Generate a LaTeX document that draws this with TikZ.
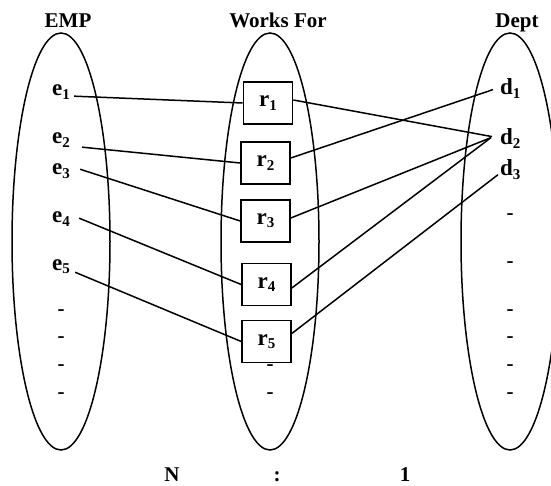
\documentclass[tikz,border=0pt]{standalone}
\usepackage{fontspec}
\setmainfont{Liberation Serif}
\usetikzlibrary{calc}
\newcommand\sbs[1]{\raisebox{-0.3ex}{\fontsize{15}{15}\selectfont #1}}
\begin{document}
\begin{tikzpicture}[x=1pt,y=-1pt,
  txt/.style={inner sep=0pt,font=\fontsize{21}{24}\selectfont\bfseries},
  item/.style={inner sep=0pt,font=\fontsize{23}{26}\selectfont\bfseries},
  setshape/.style={draw,line width=1.5pt},
  relbox/.style={item,draw,line width=1.6pt,minimum width=49pt,minimum height=42pt},
  link/.style={line width=1.5pt},
  gap/.style={txt}]
\useasboundingbox (0,0) rectangle (551,486);
\clip (0,0) rectangle (551,486);

% entity sets and relationship set
\draw[setshape] (61,241.5) ellipse [x radius=49, y radius=208.5];
\draw[setshape] (270,241.5) ellipse [x radius=49, y radius=208.5];
\draw[setshape] (510,241.5) ellipse [x radius=49, y radius=208.5];

% headings
\node[txt,anchor=base] (hemp) at (68,28) {EMP};
\node[txt,anchor=base] (hwf) at (278,28) {Works For};
\node[txt,anchor=base] (hdept) at (517,28) {Dept};

% employees
\node[item,anchor=base west] (e1) at (52,96) {e\sbs{1}};
\node[item,anchor=base west] (e2) at (52,144) {e\sbs{2}};
\node[item,anchor=base west] (e3) at (52,175) {e\sbs{3}};
\node[item,anchor=base west] (e4) at (52,223) {e\sbs{4}};
\node[item,anchor=base west] (e5) at (52,270) {e\sbs{5}};
\foreach \y/\n in {313/a,340/b,368/c,396/d}
  \node[gap] (ge\n) at (61,\y) {-};

% relationship instances
\node[relbox] (r1) at (268,103) {r\sbs{1}};
\node[relbox] (r2) at (265.5,163) {r\sbs{2}};
\node[relbox] (r3) at (265.5,221) {r\sbs{3}};
\node[relbox] (r4) at (266.5,284.5) {r\sbs{4}};
\node[relbox] (r5) at (266.5,341.5) {r\sbs{5}};
\foreach \y/\n in {368/a,396/b}
  \node[gap] (gr\n) at (270,\y) {-};

% departments
\node[item,anchor=base west] (d1) at (500,95) {d\sbs{1}};
\node[item,anchor=base west] (d2) at (500,145) {d\sbs{2}};
\node[item,anchor=base west] (d3) at (500,176) {d\sbs{3}};
\foreach \y/\n in {217/a,265/b,313/c,340/d,368/e,396/f}
  \node[gap] (gd\n) at (510,\y) {-};

% employee to relationship
\draw[link] ($(e1.east)+(4,4)$) -- (r1.west);
\draw[link] ($(e2.east)+(12,7)$) -- (r2.west);
\draw[link] ($(e3.east)+(10,-2)$) -- (r3.west);
\draw[link] ($(e4.east)+(9,-1)$) -- (r4.west);
\draw[link] ($(e5.east)+(5,6)$) -- (r5.west);

% relationship to department
\draw[link] ($(r1.east)+(0,-3)$) -- ($(d2.west)+(-8,-2)$);
\draw[link] ($(r2.east)+(0,-5)$) -- ($(d1.west)+(-7,1)$);
\draw[link] ($(r3.east)+(0,-3)$) -- ($(d2.west)+(-9,-1)$);
\draw[link] ($(r4.east)+(0,3.5)$) -- ($(d2.west)+(-9,-1)$);
\draw[link] ($(r5.east)+(0,-8)$) -- ($(d3.west)+(-2,5)$);

% cardinality
\node[txt,anchor=base] (cn) at (172,481) {N};
\node[txt,anchor=base] (cc) at (277,481) {:};
\node[txt,anchor=base] (c1) at (405,481) {1};
\end{tikzpicture}
\end{document}
